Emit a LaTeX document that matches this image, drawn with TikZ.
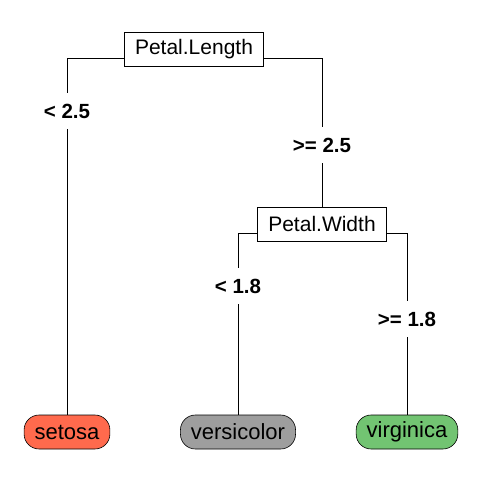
\documentclass[tikz,border=0pt]{standalone}
\usepackage{fontspec}
\setmainfont{Liberation Sans}
\usetikzlibrary{positioning,calc}
\definecolor{setosacol}{HTML}{FF6A4D}
\definecolor{versicol}{HTML}{9E9E9E}
\definecolor{virgcol}{HTML}{72C472}

\begin{document}
\begin{tikzpicture}[
    x=1pt, y=-1pt,
    splitbox/.style={draw=black, line width=0.8pt, fill=white, inner xsep=10.5pt, minimum height=34pt, font=\fontsize{21}{24}\selectfont},
    leafbox/.style={draw=black, line width=0.6pt, rounded corners=15pt, inner xsep=10.5pt, minimum height=34pt, font=\fontsize{22}{24}\selectfont},
    edgelabel/.style={fill=white, inner xsep=1pt, minimum height=36pt, font=\fontsize{20.5}{24}\selectfont\bfseries},
    branch/.style={draw=black, line width=0.8pt}
]
\useasboundingbox (0,0) rectangle (480,480);

% Splits
\node[splitbox] (PL) at (194,49) {Petal.Length};
\node[splitbox] (PW) at (322,224) {Petal.Width};

% Leaves
\node[leafbox, fill=setosacol] (setosa) at (67,432) {setosa};
\node[leafbox, fill=versicol] (versicolor) at (238,432) {versicolor};
\node[leafbox, fill=virgcol] (virginica) at (407,432) {virginica};

% Labels
\node[edgelabel] (lt1) at (67,111) {< 2.5};
\node[edgelabel] (ge1) at (322,145) {>= 2.5};
\node[edgelabel] (lt2) at (238,286) {< 1.8};
\node[edgelabel] (ge2) at (407,319) {>= 1.8};

% Branches
\draw[branch] ($(PL.south west)+(0pt,8pt)$) -| (lt1.north);
\draw[branch] (lt1.south) -- (setosa.north);
\draw[branch] ($(PL.south east)+(0pt,8pt)$) -| (ge1.north);
\draw[branch] (ge1.south) -- (PW.north);
\draw[branch] ($(PW.south west)+(0pt,8pt)$) -| (lt2.north);
\draw[branch] (lt2.south) -- (versicolor.north);
\draw[branch] ($(PW.south east)+(0pt,8pt)$) -| (ge2.north);
\draw[branch] (ge2.south) -- (virginica.north);

\end{tikzpicture}
\end{document}
